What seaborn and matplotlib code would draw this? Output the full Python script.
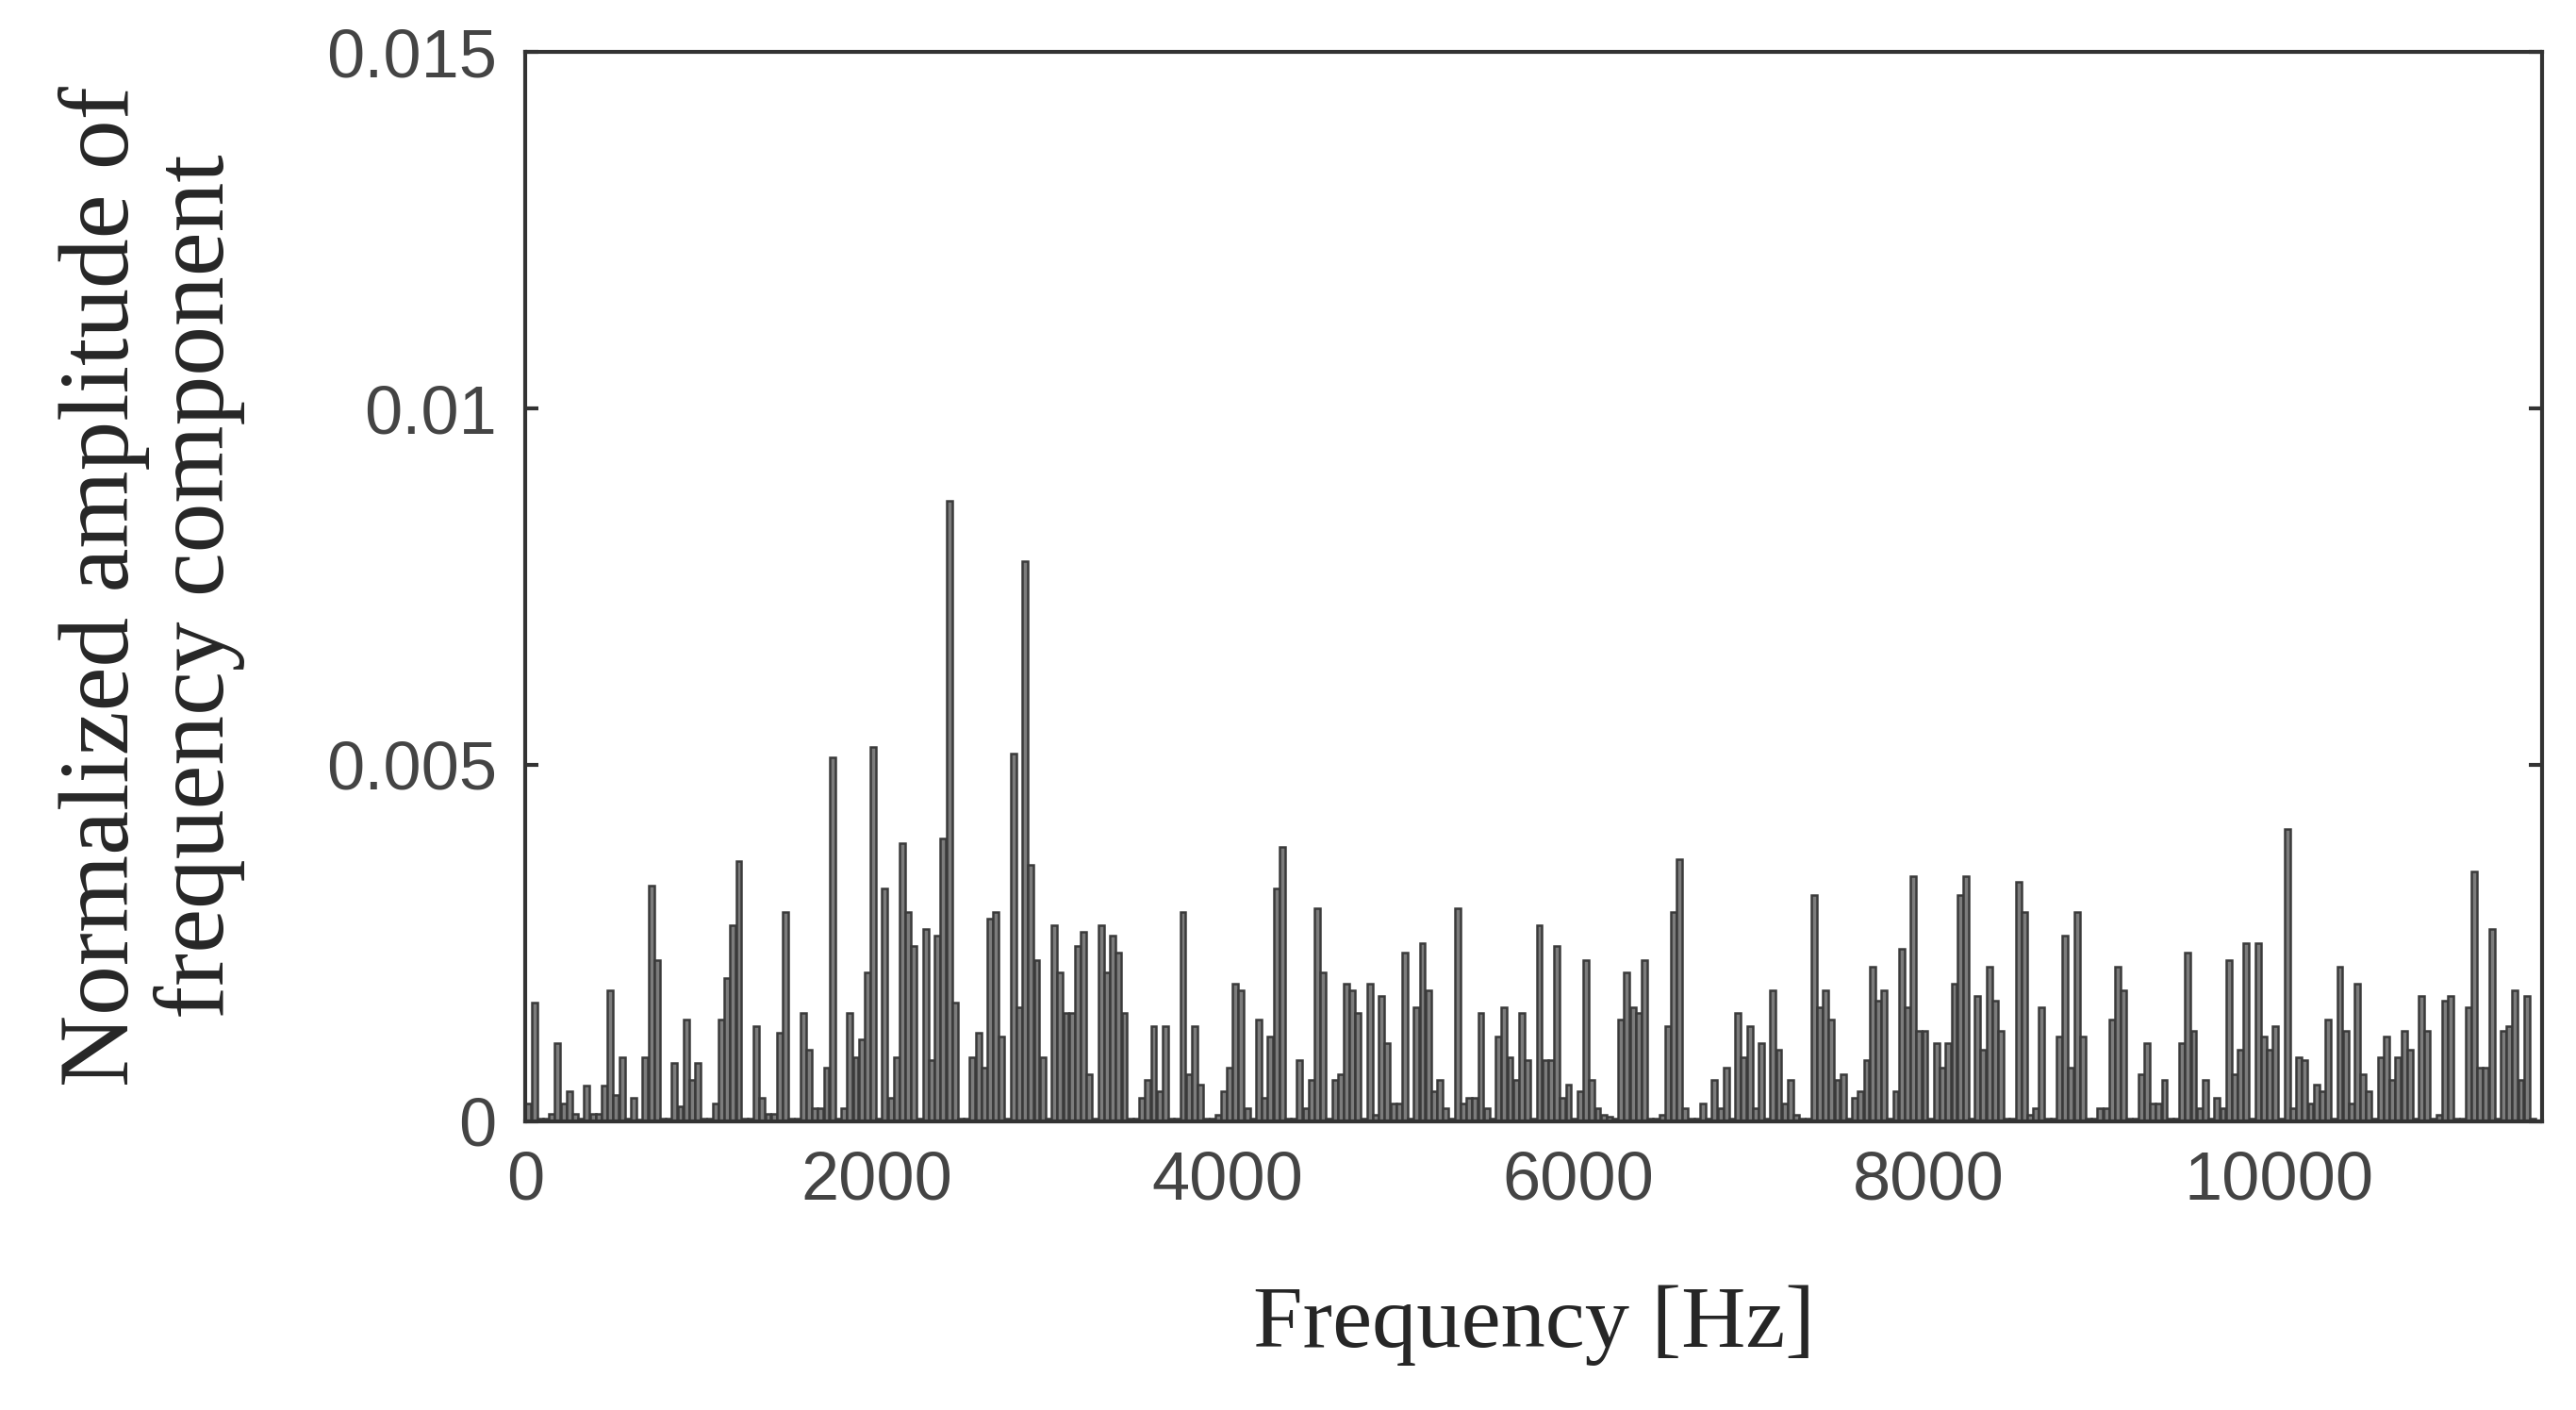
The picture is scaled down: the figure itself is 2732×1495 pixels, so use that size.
import matplotlib
matplotlib.use("Agg")
import matplotlib.pyplot as plt
import seaborn as sns
import numpy as np

# amplitudes, in units of 1e-4, left to right
amp_1 = [2.4, 16.6, 0.3, 0.3, 1.0, 10.9, 2.4, 4.2, 1.0, 0.3, 5.0, 1.0, 1.0, 5.0, 18.4,
         3.6, 9.0, 0.3, 3.3, 0.2, 9.0, 33.0, 22.6, 0.3, 0.3, 8.2, 2.1, 14.2, 5.7, 8.2,
         0.3, 0.3, 2.4, 14.2, 20.0, 27.5, 36.5, 0.3, 0.3, 13.3, 3.3, 1.0, 1.0, 12.4, 29.3,
         0.3, 0.3, 15.1, 10.0, 1.8, 1.8, 7.5, 51.0, 0.3, 1.8, 15.1, 9.0, 11.5, 20.8, 52.5,
         0.3, 32.6, 3.3, 9.0, 39.0, 29.3, 24.5, 0.3, 27.0, 8.5, 26.0, 39.6]
amp_2 = [87.0, 16.6, 0.3, 0.3, 9.0, 12.4, 7.5, 28.4, 29.3, 11.8, 0.3, 51.6, 16.0, 78.5, 36.0,
         22.6, 9.0, 0.3, 27.5, 20.8, 15.1, 15.1, 24.5, 26.6, 6.6, 0.3, 27.5, 20.8, 26.0, 23.6,
         15.1, 0.3, 0.3, 3.3, 5.7, 13.3, 4.2, 13.3, 0.3, 0.3, 29.3, 6.6, 13.3, 5.1, 0.3,
         0.3, 0.9, 4.2, 7.5, 19.3, 18.4, 1.8, 0.3, 14.2, 3.3, 11.8, 32.6, 38.4, 0.3, 0.3,
         8.5, 1.8, 5.7, 29.9, 20.8, 0.3, 5.7, 6.6, 19.3]
amp_3 = [18.4, 15.1, 0.3, 19.3, 0.9, 17.5, 10.9, 2.4, 2.4, 23.6, 0.3, 16.0, 25.0, 18.4, 4.2,
         5.7, 1.8, 0.3, 29.9, 2.4, 3.3, 3.3, 15.1, 1.8, 0.3, 11.8, 16.0, 9.0, 5.7, 15.1,
         8.5, 0.3, 27.5, 8.5, 8.5, 24.5, 3.3, 5.1, 0.3, 4.2, 22.6, 5.7, 1.8, 0.9, 0.6,
         0.3, 14.2, 20.8, 16.0, 15.1, 22.6, 0.3, 0.3, 0.9, 13.3, 29.3, 36.8, 1.8, 0.3, 0.3,
         2.4, 0.3, 5.7, 1.8, 7.5, 0.3, 15.1, 9.0]
amp_4 = [13.3, 1.8, 10.9, 0.3, 18.4, 10.0, 2.4, 5.7, 0.9, 0.3, 0.3, 31.7, 16.0, 18.4, 14.2,
         5.7, 6.6, 0.3, 3.3, 4.2, 8.5, 21.7, 16.9, 18.4, 0.3, 4.2, 24.2, 16.0, 34.4, 12.7,
         12.7, 0.3, 10.9, 7.5, 10.9, 19.3, 31.7, 34.4, 0.3, 17.5, 10.0, 21.7, 16.9, 12.7, 0.3,
         0.3, 33.5, 29.3, 0.9, 1.8, 16.0, 0.3, 0.3, 11.8, 26.0, 7.5, 29.3, 11.8, 0.3, 0.3,
         1.8, 1.8, 14.2, 21.7, 18.4, 0.3, 0.3, 6.6, 10.9]
amp_5 = [2.4, 2.4, 5.7, 0.3, 0.3, 10.9, 23.6, 12.7, 1.8, 5.7, 0.3, 3.3, 1.8, 22.6, 6.6,
         10.0, 25.0, 0.3, 25.0, 11.8, 10.0, 13.3, 0.3, 41.0, 1.8, 9.0, 8.5, 2.4, 5.1, 4.2,
         14.2, 0.3, 21.7, 12.7, 2.4, 19.3, 6.6, 4.2, 0.3, 9.0, 11.8, 5.7, 9.0, 12.7, 10.0,
         0.3, 17.5, 12.7, 0.3, 0.9, 16.9, 17.5, 0.3, 0.3, 16.0, 35.0, 7.5, 7.5, 26.9, 0.3,
         12.7, 13.3, 18.4, 5.7, 17.5, 0.3]

amplitude = np.array(amp_1 + amp_2 + amp_3 + amp_4 + amp_5) * 1e-4
bin_width = 11460 / len(amplitude)
frequency = (np.arange(len(amplitude)) + 0.5) * bin_width

x_ticks = [0, 2000, 4000, 6000, 8000, 10000]
y_ticks = [0, 0.005, 0.01, 0.015]
y_tick_labels = ["0", "0.005", "0.01", "0.015"]

sns.set_style("white")
plt.rcParams["font.family"] = ["Liberation Sans", "DejaVu Sans"]

fig = plt.figure(figsize=(27.32, 14.95), dpi=100)
ax = fig.add_axes([0.204, 0.205, 0.783, 0.758])

sns.barplot(x=frequency, y=amplitude, native_scale=True, width=0.95,
            color="#7c7c7c", edgecolor="#3a3a3a", linewidth=1.8, saturation=1, ax=ax)

ax.set_xlim(0, 11500)
ax.set_ylim(0, 0.015)
ax.set_xticks(x_ticks)
ax.set_xticklabels([str(t) for t in x_ticks])
ax.set_yticks(y_ticks)
ax.set_yticklabels(y_tick_labels)
ax.tick_params(axis="both", direction="in", length=10, width=3, color="#333333",
               labelsize=52, labelcolor="#444444", pad=22, right=True, top=False, left=True, bottom=False)
for s in ax.spines.values():
    s.set_linewidth(3)
    s.set_color("#333333")

serif = ["Liberation Serif", "DejaVu Serif"]
ax.set_xlabel("Frequency [Hz]", fontsize=68, family=serif, labelpad=55)
ax.set_ylabel("Normalized amplitude of\nfrequency component", fontsize=76, family=serif,
              labelpad=62, linespacing=1.05)

fig.savefig("out.png", dpi=100)
